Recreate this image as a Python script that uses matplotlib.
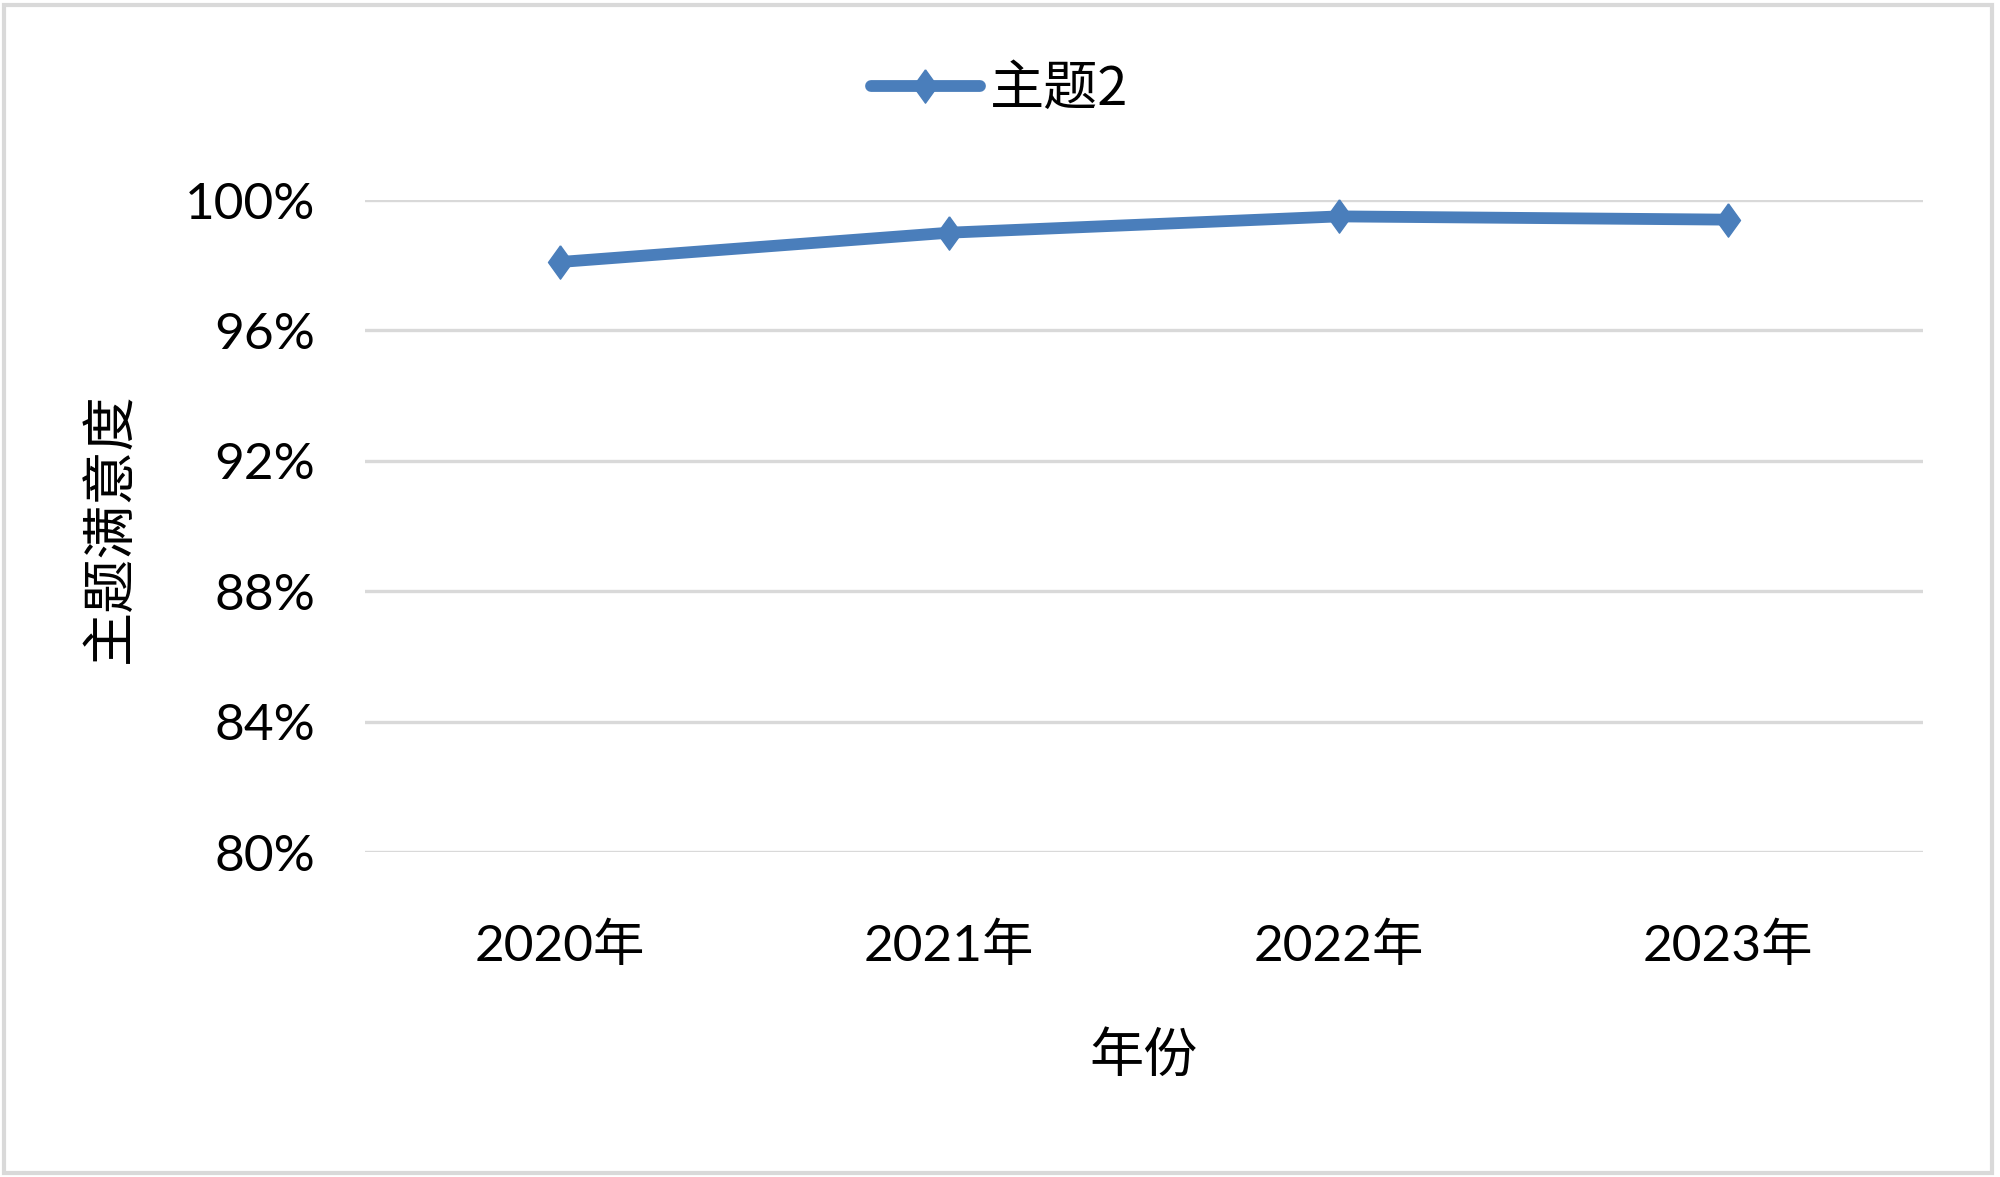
import matplotlib
matplotlib.use("Agg")
import matplotlib.pyplot as plt
from matplotlib.ticker import FuncFormatter
from matplotlib.patches import Rectangle

categories = ["2020年", "2021年", "2022年", "2023年"]
series_name = "主题2"
values = [98.1, 99.0, 99.5, 99.4]
yticks = [80, 84, 88, 92, 96, 100]
x_label = "年份"
y_label = "主题满意度"

plt.rcParams['font.family'] = ['Lato', 'Noto Sans CJK SC', 'DejaVu Sans']

fig = plt.figure(figsize=(20, 11.77), dpi=100)
ax = fig.add_axes([0.1825, 0.2761, 0.779, 0.5539])

color = '#4A7EBB'
diamond = [(0, 1), (0.72, 0), (0, -1), (-0.72, 0), (0, 1)]
x = list(range(len(categories)))
ax.plot(x, values, color=color, linewidth=8.5, marker=diamond, markersize=24,
        markerfacecolor=color, markeredgecolor=color, label=series_name,
        solid_capstyle='round', zorder=3)

ax.set_xlim(-0.5, len(categories) - 0.5)
ax.set_ylim(80, 100)
ax.set_yticks(yticks)
ax.yaxis.set_major_formatter(FuncFormatter(lambda v, p: f"{v:.0f}%"))
ax.set_xticks(x)
ax.set_xticklabels(categories)
ax.grid(axis='y', color='#D9D9D9', linewidth=2.4, zorder=0)
ax.set_axisbelow(True)
for s in ax.spines.values():
    s.set_visible(False)
ax.tick_params(axis='both', length=0, labelsize=37, colors='#000000')
ax.tick_params(axis='y', pad=36)
ax.tick_params(axis='x', pad=51)
for line in ax.lines:
    line.set_clip_on(False)

fig.text(1144 / 2000, 1 - 1056 / 1177, x_label, fontsize=39, ha='center', va='center',
         family=['Noto Sans CJK SC'])
fig.text(111 / 2000, 1 - 528 / 1177, y_label, fontsize=39, ha='center', va='center',
         rotation=90, family=['Noto Sans CJK SC'])

leg = fig.legend(loc='center', bbox_to_anchor=(0.5, 1 - 89 / 1177), frameon=False,
                 handlelength=2.0, handletextpad=0.2,
                 prop={'family': ['Noto Sans CJK SC', 'Lato'], 'size': 39})

fig.patches.append(Rectangle((0.002, 0.003), 0.994, 0.993, transform=fig.transFigure,
                             fill=False, edgecolor='#D9D9D9', linewidth=3))

fig.savefig("out.png", dpi=100)
